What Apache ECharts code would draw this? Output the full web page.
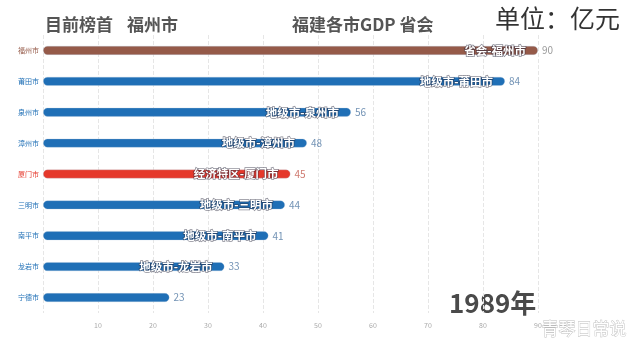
<!DOCTYPE html>
<html>
<head>
<meta charset="utf-8">
<script src="https://cdn.jsdelivr.net/npm/echarts@6/dist/echarts.min.js"></script>
<style>
html,body{margin:0;padding:0;background:#fff;}
#c{width:641px;height:351px;}
</style>
</head>
<body>
<div id="c"></div>
<script>
var cities = ['福州市','莆田市','泉州市','漳州市','厦门市','三明市','南平市','龙岩市','宁德市'];
var values = [90, 84, 56, 48, 45, 44, 41, 33, 23];
var types = ['省会','地级市','地级市','地级市','经济特区','地级市','地级市','地级市',''];
var typeColors = {'省会':'#955a49','地级市':'#1f6fb6','经济特区':'#e5382b','':'#1f6fb6'};
var valueColors = {'省会':'#9a9a9a','地级市':'#7393b5','经济特区':'#cf7a70','':'#7393b5'};
var xTicks = [0,10,20,30,40,50,60,70,80,90];
var year = '1989年';

var FONT = '"Noto Sans CJK SC","Noto Sans",sans-serif';
var chart = echarts.init(document.getElementById('c'), null, {renderer:'canvas'});

var barData = values.map(function(v,i){
  var t = types[i];
  return {
    value: v,
    itemStyle: {color: typeColors[t]},
    label: {show: t !== '', formatter: t ? t + '-' + cities[i] : ''}
  };
});
var valData = values.map(function(v,i){
  return {value: v, label: {color: valueColors[types[i]]}};
});

chart.setOption({
  animation: false,
  grid: {left: 43, right: 103, top: 35, bottom: 38},
  xAxis: {
    type: 'value', min: xTicks[0], max: xTicks[xTicks.length-1], interval: 10,
    axisLine: {show: false}, axisTick: {show: false},
    splitLine: {show: true, lineStyle: {color: '#e6e6e6', type: 'dashed', width: 1}},
    axisLabel: {
      fontSize: 7, color: '#aaa', margin: 9, fontFamily: FONT,
      formatter: function(v){ return v === 0 ? '' : String(v); }
    }
  },
  yAxis: {
    type: 'category', data: cities, inverse: true,
    axisLine: {show: false}, axisTick: {show: false},
    axisLabel: {
      fontSize: 7, margin: 4, fontFamily: FONT,
      color: function(v, i){ return typeColors[types[cities.indexOf(v)]]; }
    }
  },
  series: [
    {
      type: 'bar', data: barData, barWidth: 9, z: 2,
      itemStyle: {borderRadius: 5, borderColor: 'rgba(180,200,220,0.5)', borderWidth: 0.6},
      label: {
        show: true, position: 'insideRight', distance: 12,
        color: '#fff', fontSize: 11.5, fontWeight: 'bold', fontFamily: FONT,
        textBorderColor: 'rgba(40,40,60,0.55)', textBorderWidth: 1.5
      }
    },
    {
      type: 'bar', data: valData, barWidth: 9, barGap: '-100%', z: 1,
      itemStyle: {color: 'transparent'},
      label: {show: true, position: 'right', distance: 4, fontSize: 10, fontFamily: FONT}
    }
  ],
  graphic: [
    {type: 'text', left: 45, top: 16, style: {text: '目前榜首', font: 'bold 17px ' + FONT, fill: '#555'}},
    {type: 'text', left: 127, top: 16, style: {text: cities[0], font: 'bold 17px ' + FONT, fill: '#555'}},
    {type: 'text', left: 292, top: 16, style: {text: '福建各市GDP 省会', font: 'bold 17px ' + FONT, fill: '#555'}},
    {type: 'text', left: 495, top: 6, style: {text: '单位：亿元', font: '25px ' + FONT, fill: '#333'}},
    {type: 'text', left: 449, top: 290, style: {text: year, font: 'bold 26px ' + FONT, fill: '#4a4a4a'}},
    {type: 'text', left: 541, top: 320, style: {text: '青琴日常说', font: '17px ' + FONT, fill: '#fff', stroke: '#bbb', lineWidth: 0.8}}
  ]
});
</script>
</body>
</html>
